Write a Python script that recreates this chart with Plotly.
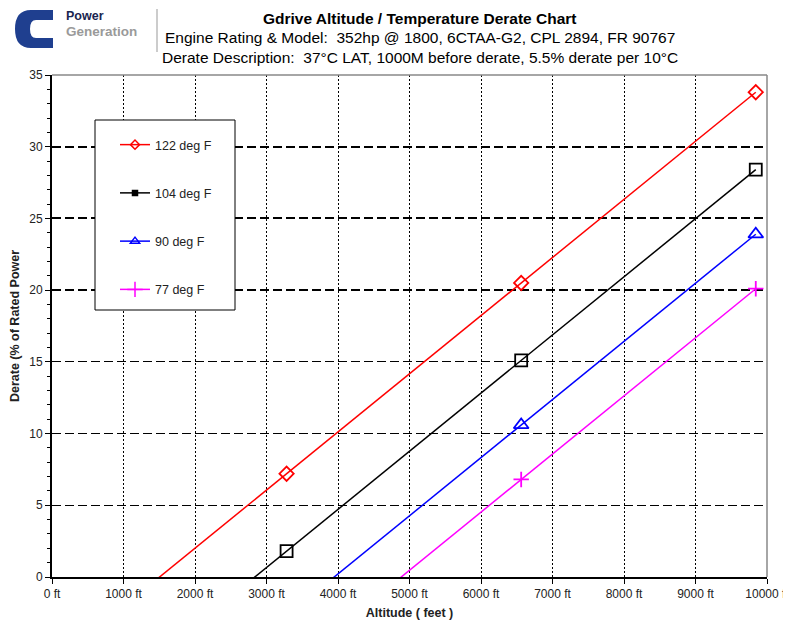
import plotly.graph_objects as go

# ---------------- data ----------------
altitude_ft = [0, 3281, 6562, 9843]
series_names = ["122 deg F", "104 deg F", "90 deg F", "77 deg F"]
derate_122 = [-6.1, 7.2, 20.5, 33.8]
derate_104 = [-11.5, 1.8, 15.1, 28.4]
derate_90 = [-16.0, -2.7, 10.6, 23.9]
derate_77 = [-19.8, -6.5, 6.8, 20.1]

x_tick_vals = [0, 1000, 2000, 3000, 4000, 5000, 6000, 7000, 8000, 9000, 10000]
x_tick_text = ["0 ft", "1000 ft", "2000 ft", "3000 ft", "4000 ft", "5000 ft",
               "6000 ft", "7000 ft", "8000 ft", "9000 ft", "10000 ft"]
y_tick_vals = [0, 5, 10, 15, 20, 25, 30, 35]
y_bold_grid = [20, 25, 30]

# ---------------- layout geometry ----------------
# the page body has an 8px margin, so the figure is drawn 8px smaller
OFF = 8
W, H = 791 - OFF, 623 - OFF
ML, MR, MT, MB = 52 - OFF, 24, 75 - OFF, 46
PW, PH = W - ML - MR, H - MT - MB


def px(x):  # screen x -> paper
    return (x - OFF - ML) / PW


def py(y):  # screen y -> paper
    return (H - MB - (y - OFF)) / PH


FONT = "Liberation Sans, Arial, sans-serif"

colors = ["#FF0000", "#000000", "#0000FF", "#FF00FF"]
plot_symbols = ["diamond-open", "square-open", "triangle-up-open", "cross-thin-open"]
plot_sizes = [11, 12, 13, 11]
legend_symbols = ["diamond-open", "square", "triangle-up-open", "cross-thin-open"]
legend_sizes = [7, 5, 8, 11]
values = [derate_122, derate_104, derate_90, derate_77]

fig = go.Figure()

for name, vals, c, sym, sz in zip(series_names, values, colors, plot_symbols, plot_sizes):
    fig.add_trace(go.Scatter(
        x=altitude_ft, y=vals, mode="lines+markers", name=name,
        line=dict(color=c, width=1.5),
        marker=dict(symbol=sym, size=sz, color=c, line=dict(color=c, width=1.8)),
        showlegend=False, hoverinfo="x+y",
    ))

for i, (name, c, sym, sz) in enumerate(zip(series_names, colors, legend_symbols, legend_sizes)):
    fig.add_trace(go.Scatter(
        x=[None], y=[None], mode="lines+markers", name=name,
        line=dict(color=c, width=1.5),
        marker=dict(symbol=sym, size=sz, color=c, line=dict(color=c, width=1.5)),
        legendgroup="g%d" % i, showlegend=True,
    ))

shapes = []
# legend box
shapes.append(dict(type="rect", xref="paper", yref="paper",
                   x0=px(95), x1=px(235), y0=py(310), y1=py(120),
                   fillcolor="white", line=dict(color="black", width=1), layer="above"))
# top and right plot borders (gray)
shapes.append(dict(type="line", xref="paper", yref="paper", x0=0, x1=1, y0=1, y1=1,
                   line=dict(color="#888888", width=1.5), layer="above"))
shapes.append(dict(type="line", xref="paper", yref="paper", x0=1, x1=1, y0=0, y1=1,
                   line=dict(color="#888888", width=1.5), layer="above"))
# separator next to logo
shapes.append(dict(type="line", xref="paper", yref="paper", x0=px(157), x1=px(157),
                   y0=py(52), y1=py(9), line=dict(color="#BBBBBB", width=1.5), layer="above"))
# logo "C"
pts = ("M {a},{b} L {c},{b} Q {d},{b} {d},{e} Q {d},{f} {c},{f} L {a},{f} L {a},{g} "
       "L {h},{g} Q {i},{g} {i},{j} Q {i},{k} {h},{k} L {a},{k} Z").format(
    a=px(53), b=py(10), c=px(31), d=px(15), e=py(29), f=py(48),
    g=py(38), h=px(36), i=px(30), j=py(29), k=py(20))
shapes.append(dict(type="path", xref="paper", yref="paper", path=pts,
                   fillcolor="#1F3F8F", line=dict(color="#1F3F8F", width=0), layer="above"))

annotations = [
    dict(text="<b>Gdrive Altitude / Temperature Derate Chart</b>", x=px(420), y=py(18),
         xref="paper", yref="paper", showarrow=False, xanchor="center", yanchor="middle",
         font=dict(family=FONT, size=15.5, color="black")),
    dict(text="Engine Rating & Model:  352hp @ 1800, 6CTAA-G2, CPL 2894, FR 90767", x=px(420), y=py(37),
         xref="paper", yref="paper", showarrow=False, xanchor="center", yanchor="middle",
         font=dict(family=FONT, size=15.5, color="black")),
    dict(text="Derate Description:  37°C LAT, 1000M before derate, 5.5% derate per 10°C", x=px(420), y=py(57),
         xref="paper", yref="paper", showarrow=False, xanchor="center", yanchor="middle",
         font=dict(family=FONT, size=15.5, color="black")),
    dict(text="<b>Power</b>", x=px(65), y=py(16), xref="paper", yref="paper", showarrow=False,
         xanchor="left", yanchor="middle", borderpad=0,
         font=dict(family=FONT, size=12.5, color="#1A2550")),
    dict(text="<b>Generation</b>", x=px(65), y=py(31), xref="paper", yref="paper", showarrow=False,
         xanchor="left", yanchor="middle", borderpad=0,
         font=dict(family=FONT, size=13.5, color="#9A9A9A")),
]

fig.update_layout(
    width=W, height=H,
    margin=dict(l=ML, r=MR, t=MT, b=MB, pad=0),
    paper_bgcolor="white", plot_bgcolor="white",
    font=dict(family=FONT, size=12, color="#222222"),
    showlegend=True,
    legend=dict(x=px(115), y=py(130), xanchor="left", yanchor="top",
                bgcolor="rgba(0,0,0,0)", borderwidth=0, tracegroupgap=29,
                font=dict(family=FONT, size=12.5, color="#222222")),
    xaxis=dict(range=[0, 10000], tickvals=x_tick_vals, ticktext=x_tick_text,
               ticks="outside", ticklen=5, tickcolor="black", tickwidth=1,
               showline=True, linecolor="black", linewidth=2, automargin=False,
               showgrid=True, gridcolor="black", gridwidth=1, griddash="2px,2px",
               zeroline=False, tickfont=dict(size=12),
               title=dict(text="<b>Altitude ( feet )</b>", font=dict(family=FONT, size=12.5, color="#222222"),
                          standoff=8)),
    yaxis=dict(range=[0, 35], tickvals=y_tick_vals,
               ticks="outside", ticklen=5, tickcolor="black", tickwidth=1,
               minor=dict(dtick=1, ticks="outside", ticklen=3, tickcolor="black", showgrid=False),
               showline=True, linecolor="black", linewidth=2, automargin=False,
               showgrid=True, gridcolor="black", gridwidth=1, griddash="9px,4px",
               zeroline=False, tickfont=dict(size=12),
               title=dict(text="<b>Derate (% of Rated Power</b>", font=dict(family=FONT, size=12.5, color="#222222"),
                          standoff=9)),
    yaxis2=dict(range=[0, 35], overlaying="y", tickvals=y_bold_grid, showticklabels=False,
                ticks="", showgrid=True, gridcolor="black", gridwidth=2, griddash="9px,4px",
                zeroline=False, showline=False, automargin=False),
    shapes=shapes,
    annotations=annotations,
)

# attach an invisible trace to yaxis2 so its grid is drawn
fig.add_trace(go.Scatter(x=[None], y=[None], yaxis="y2", showlegend=False, hoverinfo="skip"))

fig.write_html("out.html")
